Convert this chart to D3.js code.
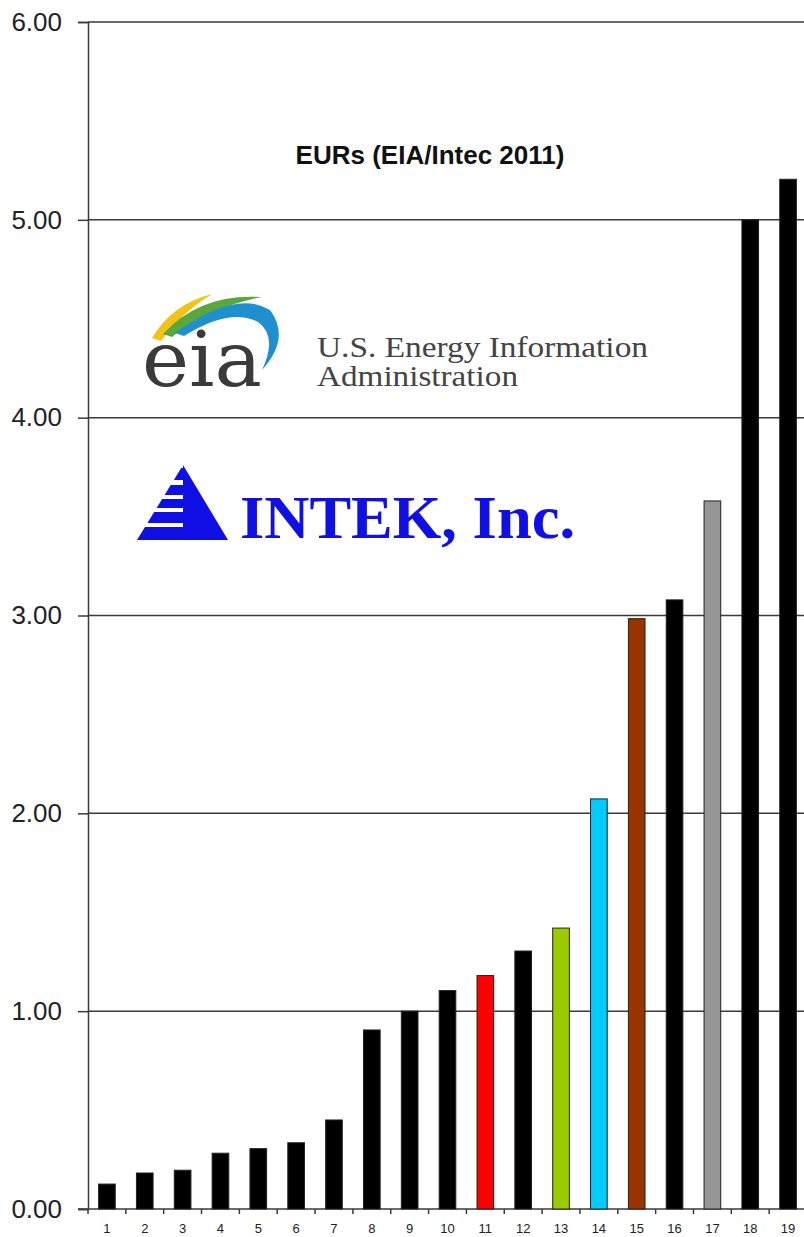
<!DOCTYPE html>
<html>
<head>
<meta charset="utf-8">
<script src="https://cdn.jsdelivr.net/npm/d3@7"></script>
<style>
  html, body { margin: 0; padding: 0; background: #fff; }
  svg { display: block; }
</style>
</head>
<body>
<div id="chart"></div>
<script>
// values
const categories = ["1","2","3","4","5","6","7","8","9","10","11","12","13","14","15","16","17","18","19"];
const eurValues = [0.126, 0.182, 0.196, 0.282, 0.305, 0.335, 0.45, 0.905, 1.0, 1.104, 1.18, 1.304, 1.42, 2.073, 2.984, 3.079, 3.579, 5.0, 5.205];
const barColors = ["#000","#000","#000","#000","#000","#000","#000","#000","#000","#000",
  "#ff0000","#000","#99cc00","#00ccff","#993300","#000","#969696","#000","#000"];
const yTicks = [0, 1, 2, 3, 4, 5, 6];
const chartTitle = "EURs (EIA/Intec 2011)";

const width = 804, height = 1237;
const plotLeft = 88, plotRight = 807, plotTop = 22, plotBottom = 1209;

const svg = d3.select("#chart").append("svg")
  .attr("width", width)
  .attr("height", height);

const x = d3.scaleBand()
  .domain(categories)
  .range([plotLeft, plotRight])
  .paddingInner(0.56)
  .paddingOuter(0.28);

const y = d3.scaleLinear()
  .domain([0, 6])
  .range([plotBottom, plotTop]);

// gridlines
svg.append("g")
  .selectAll("line")
  .data(yTicks.filter(d => d > 0))
  .enter()
  .append("line")
  .attr("x1", plotLeft)
  .attr("x2", width)
  .attr("y1", d => y(d))
  .attr("y2", d => y(d))
  .attr("stroke", "#3a3a3a")
  .attr("stroke-width", 1.5);

// y axis
const yAxis = svg.append("g")
  .attr("transform", "translate(" + plotLeft + ",0)")
  .call(d3.axisLeft(y).tickValues(yTicks).tickSize(10).tickFormat(d3.format(".2f")));
yAxis.select(".domain").attr("stroke", "#3a3a3a").attr("stroke-width", 1.5);
yAxis.selectAll(".tick line").attr("stroke", "#3a3a3a").attr("stroke-width", 1.5);
yAxis.selectAll(".tick text")
  .attr("x", -26)
  .attr("font-family", "'Liberation Sans', Arial, sans-serif")
  .attr("font-size", 26)
  .attr("fill", "#222");

// x axis
const boundaries = categories.map(c => x(c) - x.step() * x.paddingInner() / 2);
svg.append("line")
  .attr("x1", plotLeft - 10)
  .attr("x2", width)
  .attr("y1", plotBottom)
  .attr("y2", plotBottom)
  .attr("stroke", "#3a3a3a")
  .attr("stroke-width", 1.5);
svg.append("g")
  .selectAll("line")
  .data(boundaries)
  .enter()
  .append("line")
  .attr("x1", d => d)
  .attr("x2", d => d)
  .attr("y1", plotBottom)
  .attr("y2", plotBottom + 5)
  .attr("stroke", "#3a3a3a")
  .attr("stroke-width", 1.5);
svg.append("g")
  .selectAll("text")
  .data(categories)
  .enter()
  .append("text")
  .text(d => d)
  .attr("x", d => x(d) + x.bandwidth() / 2)
  .attr("y", plotBottom + 24)
  .attr("text-anchor", "middle")
  .attr("font-family", "'Liberation Sans Narrow', 'Liberation Sans', Arial, sans-serif")
  .attr("font-size", 13)
  .attr("fill", "#222");

// bars
svg.append("g")
  .selectAll("rect")
  .data(eurValues)
  .enter()
  .append("rect")
  .attr("x", (d, i) => x(categories[i]))
  .attr("y", d => y(d))
  .attr("width", x.bandwidth())
  .attr("height", d => plotBottom - y(d))
  .attr("fill", (d, i) => barColors[i])
  .attr("stroke", "#222")
  .attr("stroke-width", 1);

// title
svg.append("text")
  .text(chartTitle)
  .attr("x", 430)
  .attr("y", 164)
  .attr("text-anchor", "middle")
  .attr("font-family", "'Liberation Sans', Arial, sans-serif")
  .attr("font-weight", "bold")
  .attr("font-size", 26)
  .attr("fill", "#111");

// EIA logo
const eia = svg.append("g").attr("class", "eia-logo");
eia.append("path")
  .attr("d", "M152,338 Q172,304 212,294 Q182,312 161,341 Z")
  .attr("fill", "#f2c318");
eia.append("path")
  .attr("d", "M163,334 Q200,293 262,297 Q206,308 172,337 Z")
  .attr("fill", "#5aa83c");
eia.append("path")
  .attr("d", "M175,333 Q236,289 270,310 Q291,338 262,370 Q278,336 258,322 Q230,307 184,336 Z")
  .attr("fill", "#1e90d0");
eia.append("text")
  .text("eia")
  .attr("x", 142)
  .attr("y", 386)
  .attr("textLength", 120)
  .attr("lengthAdjust", "spacingAndGlyphs")
  .attr("font-family", "'DejaVu Serif', Georgia, serif")
  .attr("font-size", 76)
  .attr("fill", "#3a3a3a");
eia.append("text")
  .text("U.S. Energy Information")
  .attr("x", 317)
  .attr("y", 357)
  .attr("textLength", 331)
  .attr("lengthAdjust", "spacingAndGlyphs")
  .attr("font-family", "'Liberation Serif', 'Times New Roman', serif")
  .attr("font-size", 29)
  .attr("fill", "#444");
eia.append("text")
  .text("Administration")
  .attr("x", 317)
  .attr("y", 386)
  .attr("textLength", 201)
  .attr("lengthAdjust", "spacingAndGlyphs")
  .attr("font-family", "'Liberation Serif', 'Times New Roman', serif")
  .attr("font-size", 29)
  .attr("fill", "#444");

// INTEK logo
const intekBlue = "#1010e6";
const intek = svg.append("g").attr("class", "intek-logo");
intek.append("path")
  .attr("d", "M183,465 L228,540 L183,540 Z")
  .attr("fill", intekBlue);
const stripeEdges = [[468, 480], [485, 495], [499, 508], [512, 523], [527, 540]];
stripeEdges.forEach(function(s) {
  const xl0 = 183 - (s[0] - 465) * 46 / 75;
  const xl1 = 183 - (s[1] - 465) * 46 / 75;
  intek.append("path")
    .attr("d", "M" + xl0 + "," + s[0] + " L183," + s[0] + " L183," + s[1] + " L" + xl1 + "," + s[1] + " Z")
    .attr("fill", intekBlue);
});
intek.append("text")
  .text("INTEK, Inc.")
  .attr("x", 240)
  .attr("y", 538)
  .attr("textLength", 335)
  .attr("lengthAdjust", "spacingAndGlyphs")
  .attr("font-family", "'Liberation Serif', 'Times New Roman', serif")
  .attr("font-weight", "bold")
  .attr("font-size", 62)
  .attr("fill", intekBlue);
</script>
</body>
</html>
